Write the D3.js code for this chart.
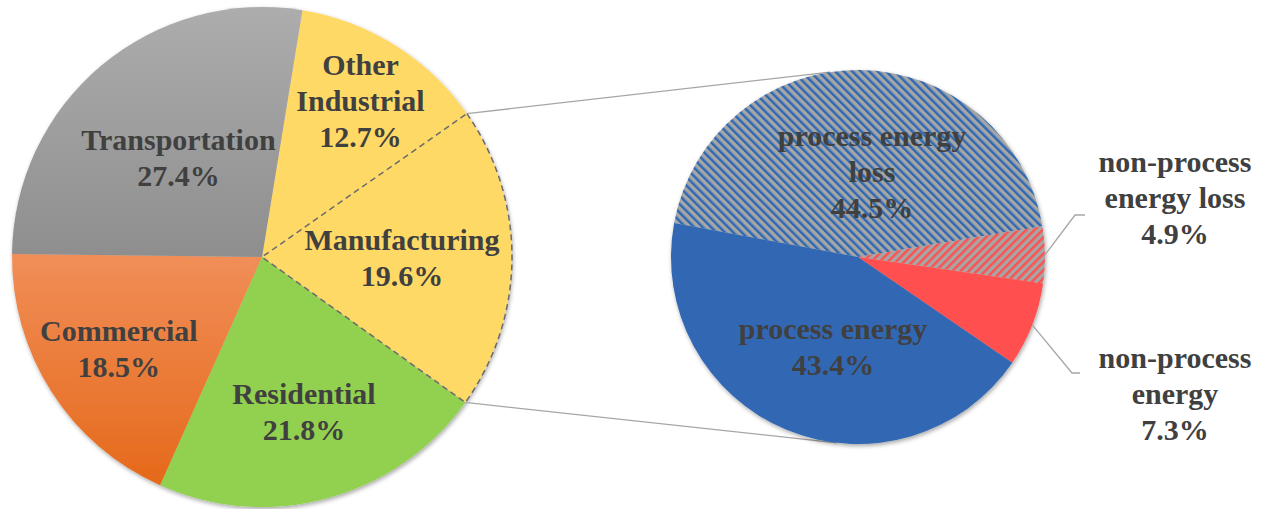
<!DOCTYPE html>
<html>
<head>
<meta charset="utf-8">
<script src="https://cdn.jsdelivr.net/npm/d3@7"></script>
<style>
  body { margin: 0; background: #fff; }
  svg { display: block; }
</style>
</head>
<body>
<svg id="chart"></svg>
<script>
// main pie: end-use sectors
const sectors = ['Other Industrial', 'Manufacturing', 'Residential', 'Commercial', 'Transportation'];
const sectorShares = [12.7, 19.6, 21.8, 18.5, 27.4];

// second pie: breakdown of manufacturing
const parts = ['process energy loss', 'non-process energy loss', 'non-process energy', 'process energy'];
const partShares = [44.5, 4.9, 7.3, 43.4];

const width = 1264, height = 509;
const svg = d3.select('#chart').attr('width', width).attr('height', height)
  .style('font-family', '"Liberation Serif"');
const defs = svg.append('defs');

const deg = Math.PI / 180;
const fmt = v => v.toFixed(1) + '%';

// drop shadow used by both pies
const shadow = defs.append('filter').attr('id', 'shadow')
  .attr('x', '-10%').attr('y', '-10%').attr('width', '120%').attr('height', '120%');
shadow.append('feDropShadow')
  .attr('dx', 1).attr('dy', 2).attr('stdDeviation', 2)
  .attr('flood-color', '#000').attr('flood-opacity', 0.35);

// vertical gradients for the gray and orange slices
function vGrad(id, top, bottom) {
  const g = defs.append('linearGradient').attr('id', id)
    .attr('x1', 0).attr('y1', 0).attr('x2', 0).attr('y2', 1);
  g.append('stop').attr('offset', '0%').attr('stop-color', top);
  g.append('stop').attr('offset', '100%').attr('stop-color', bottom);
}
vGrad('gradGray', '#adadad', '#8e8e8e');
vGrad('gradOrange', '#f18e58', '#e5691a');

// hatch patterns for the loss slices
function hatch(id, bg, fg, size, angle) {
  const p = defs.append('pattern').attr('id', id)
    .attr('patternUnits', 'userSpaceOnUse')
    .attr('width', size).attr('height', size)
    .attr('patternTransform', `rotate(${angle})`);
  p.append('rect').attr('width', size).attr('height', size).attr('fill', bg);
  p.append('rect').attr('width', size * 0.42).attr('height', size).attr('fill', fg);
}
hatch('hatchBlue', '#a6a6a6', '#2f69b3', 6, -45);
hatch('hatchRed', '#a6a6a6', '#ff5050', 5.8, 45);

const sectorFill = d3.scaleOrdinal()
  .domain(sectors)
  .range(['#ffd966', '#ffd966', '#92d050', 'url(#gradOrange)', 'url(#gradGray)']);
const partFill = d3.scaleOrdinal()
  .domain(parts)
  .range(['url(#hatchBlue)', 'url(#hatchRed)', '#ff5050', '#3068b3']);

const fontSize = 30, lineH = 36;

// one <text> per line, so each carries its own font settings
function multiLine(g, x, y, lines) {
  const y0 = y - (lines.length - 1) * lineH / 2 + fontSize * 0.34;
  lines.forEach((s, i) => {
    g.append('text')
      .attr('x', x)
      .attr('y', y0 + i * lineH)
      .attr('text-anchor', 'middle')
      .attr('font-weight', 'bold')
      .attr('font-size', fontSize)
      .attr('fill', '#404040')
      .style('font-family', '"Liberation Serif"')
      .text(s);
  });
}

// ---- left pie ----
const L = { cx: 262, cy: 257, r: 250 };
const leftStart = 9.3 * deg;
const leftPie = d3.pie().sort(null).value(d => d.v)
  .startAngle(leftStart).endAngle(leftStart + 2 * Math.PI);
const leftArcs = leftPie(sectors.map((s, i) => ({ name: s, v: sectorShares[i] })));
const leftArc = d3.arc().innerRadius(0).outerRadius(L.r);

const gL = svg.append('g').attr('transform', `translate(${L.cx},${L.cy})`);
gL.append('g').attr('filter', 'url(#shadow)')
  .selectAll('path').data(leftArcs).enter().append('path')
  .attr('d', leftArc)
  .attr('fill', d => sectorFill(d.data.name));

// dashed outline on the exploded slice
const manu = leftArcs[1];
gL.append('path')
  .attr('d', leftArc(manu))
  .attr('fill', 'none')
  .attr('stroke', '#6b6b6b')
  .attr('stroke-width', 1.5)
  .attr('stroke-dasharray', '6,4');

const leftLabelPos = [[0.74, 0], [0.56, 0], [0.64, 0], [0.68, 0], [0.52, 0]];
const leftLabelLines = [
  ['Other', 'Industrial'], ['Manufacturing'], ['Residential'], ['Commercial'], ['Transportation']
];
leftArcs.forEach((d, i) => {
  const a = (d.startAngle + d.endAngle) / 2;
  const rr = L.r * leftLabelPos[i][0];
  multiLine(gL, rr * Math.sin(a) + leftLabelPos[i][1], -rr * Math.cos(a),
    leftLabelLines[i].concat(fmt(d.data.v)));
});

// ---- right pie ----
const R = { cx: 858, cy: 257, r: 187 };
const rightStart = -79.5 * deg;
const rightPie = d3.pie().sort(null).value(d => d.v)
  .startAngle(rightStart).endAngle(rightStart + 2 * Math.PI);
const rightArcs = rightPie(parts.map((s, i) => ({ name: s, v: partShares[i] })));
const rightArc = d3.arc().innerRadius(0).outerRadius(R.r);

// connector lines between the two pies
const onCircle = (c, a) => [c.cx + c.r * Math.sin(a), c.cy - c.r * Math.cos(a)];
const connectors = [
  [onCircle(L, manu.startAngle), onCircle(R, -8.6 * deg)],
  [onCircle(L, manu.endAngle), onCircle(R, 186.5 * deg)]
];
svg.append('g').selectAll('line').data(connectors).enter().append('line')
  .attr('x1', d => d[0][0]).attr('y1', d => d[0][1])
  .attr('x2', d => d[1][0]).attr('y2', d => d[1][1])
  .attr('stroke', '#a6a6a6').attr('stroke-width', 1.3);

const gR = svg.append('g').attr('transform', `translate(${R.cx},${R.cy})`);
gR.append('g').attr('filter', 'url(#shadow)')
  .selectAll('path').data(rightArcs).enter().append('path')
  .attr('d', rightArc)
  .attr('fill', d => partFill(d.data.name));

// inside labels
const insideLabels = { 0: { dx: 14, dy: -85, lines: ['process energy', 'loss'] },
                       3: { dx: -25, dy: 90, lines: ['process energy'] } };
Object.keys(insideLabels).forEach(k => {
  const o = insideLabels[k];
  multiLine(gR, o.dx, o.dy, o.lines.concat(fmt(rightArcs[k].data.v)));
});

// outside labels with leader lines
const outsideLabels = { 1: { elbow: [217, -42], tail: 10, tx: 317, ty: -59, lines: ['non-process', 'energy loss'] },
                        2: { elbow: [214, 116], tail: 8, tx: 317, ty: 137, lines: ['non-process', 'energy'] } };
Object.keys(outsideLabels).forEach(k => {
  const o = outsideLabels[k];
  const d = rightArcs[k];
  const a = (d.startAngle + d.endAngle) / 2;
  const p0 = [R.r * Math.sin(a), -R.r * Math.cos(a)];
  gR.append('polyline')
    .attr('points', [p0, o.elbow, [o.elbow[0] + o.tail, o.elbow[1]]].map(p => p.join(',')).join(' '))
    .attr('fill', 'none')
    .attr('stroke', '#a6a6a6')
    .attr('stroke-width', 1.3);
  multiLine(gR, o.tx, o.ty, o.lines.concat(fmt(d.data.v)));
});
</script>
</body>
</html>
